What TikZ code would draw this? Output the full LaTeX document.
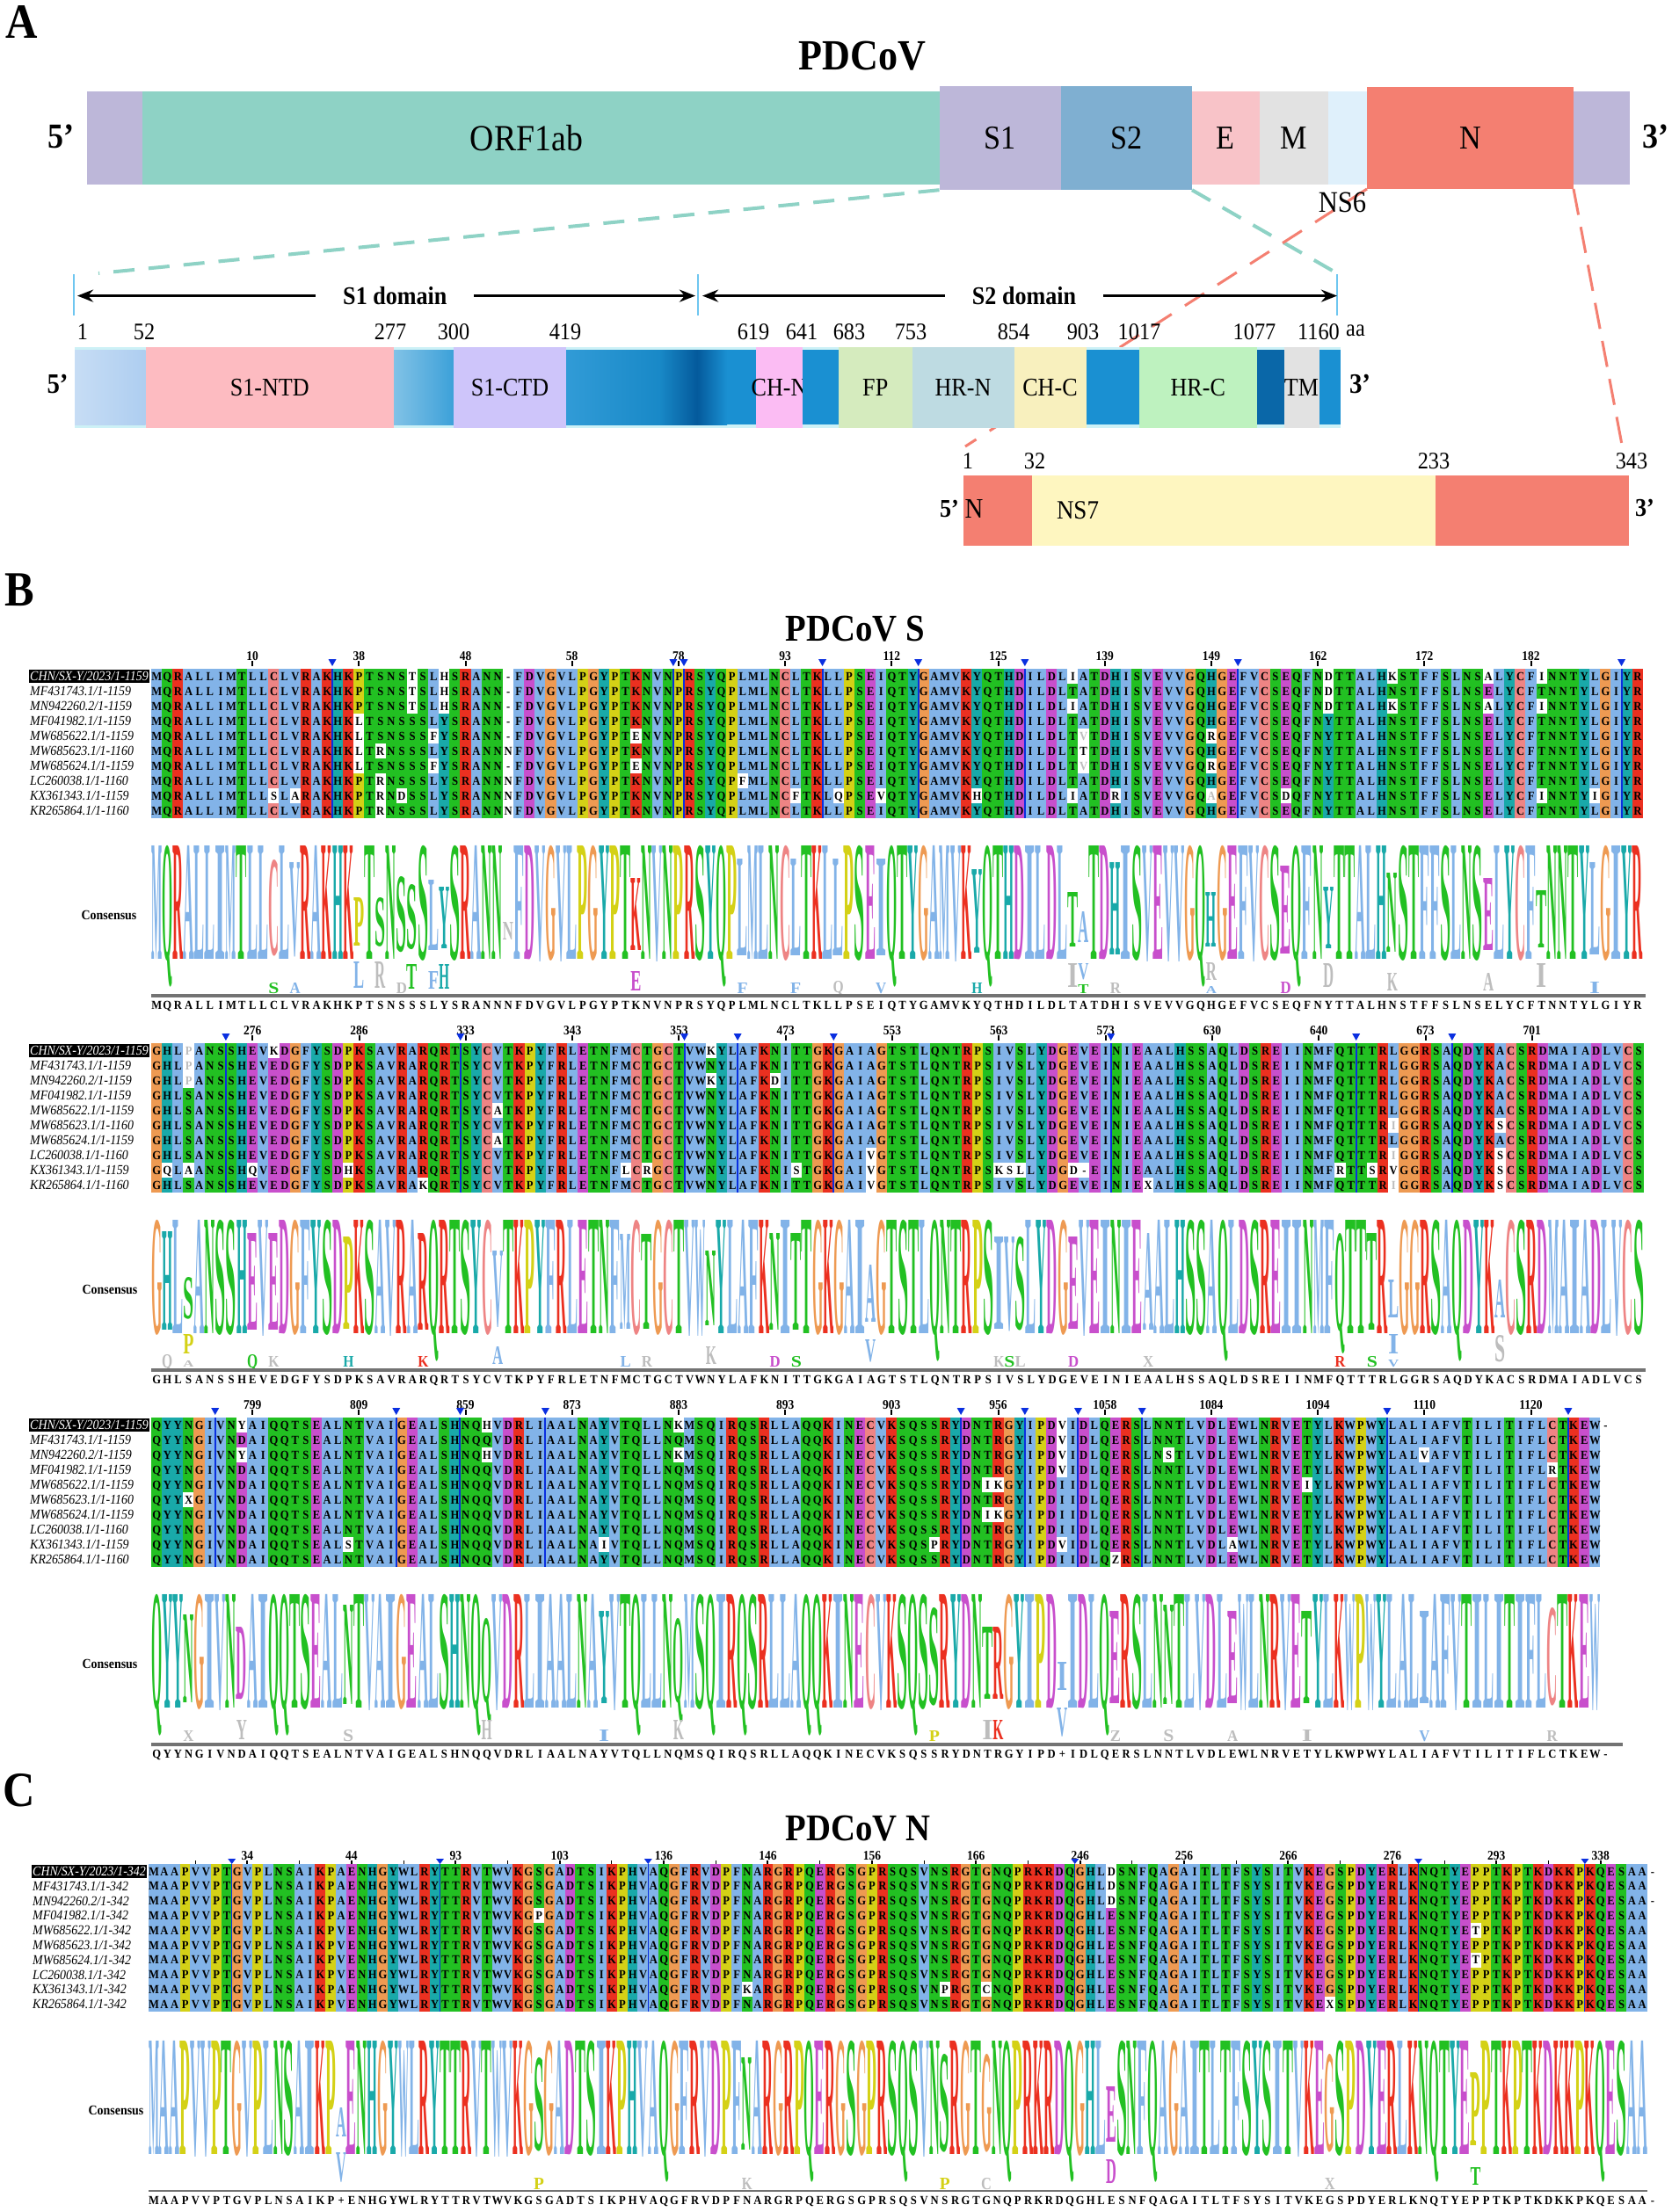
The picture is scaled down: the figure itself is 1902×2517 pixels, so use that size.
\documentclass[tikz,border=0pt]{standalone}
\usepackage{fontspec}
\setmainfont[FakeStretch=0.9]{Liberation Serif}
\usetikzlibrary{positioning, backgrounds, arrows.meta}

\definecolor{hydro}{HTML}{82B3E8}
\definecolor{polar}{HTML}{22C022}
\definecolor{basic}{HTML}{EB3020}
\definecolor{acid}{HTML}{C84FCC}
\definecolor{gly}{HTML}{EE9A52}
\definecolor{pro}{HTML}{D4D116}
\definecolor{arom}{HTML}{19A9A9}
\definecolor{cys}{HTML}{EE8484}
\definecolor{faint}{HTML}{BDBDBD}
\definecolor{insertblue}{HTML}{0A2FE0}
\definecolor{lilac}{HTML}{BDB7D9}
\definecolor{orfteal}{HTML}{8ED2C5}
\definecolor{spiketwo}{HTML}{7FAFD1}
\definecolor{enve}{HTML}{F8C3C8}
\definecolor{memb}{HTML}{E2E2E2}
\definecolor{nssix}{HTML}{DFF0FB}
\definecolor{nucl}{HTML}{F47F71}
\definecolor{strip}{HTML}{CDF1F6}
\definecolor{linker}{HTML}{1A90D2}
\definecolor{tickblue}{HTML}{6EC6F0}
\definecolor{ntdpink}{HTML}{FDBBC1}
\definecolor{ctdlilac}{HTML}{CEC5FA}
\definecolor{chnpink}{HTML}{FBBCF3}
\definecolor{fpgreen}{HTML}{D5EBBE}
\definecolor{hrnblue}{HTML}{BEDBE2}
\definecolor{chcyellow}{HTML}{F8F0BE}
\definecolor{hrcgreen}{HTML}{BEF2BF}
\definecolor{nsseven}{HTML}{FEF6C0}
\definecolor{deepblue}{HTML}{045A9C}
\definecolor{tmblue}{HTML}{0A67A8}

\newcommand{\fs}[1]{\fontsize{#1}{#1}\selectfont}
\newcommand{\faintres}[1]{\textcolor{faint}{#1}}
\newcommand{\seglab}[1]{\raisebox{-4pt}{\makebox[0pt]{#1}}}

\tikzset{
  genebox/.style={inner sep=0pt, outer sep=0pt, minimum height=105.5pt, font=\fs{38}},
  tallbox/.style={genebox, minimum height=118pt},
  fullseg/.style={inner sep=0pt, outer sep=0pt, minimum height=92pt, font=\fs{29}},
  blueseg/.style={fullseg, minimum height=85.3pt},
  nsbox/.style={inner sep=0pt, outer sep=0pt, minimum height=80pt},
  primelabel/.style={inner sep=0pt, font=\fs{40}\bfseries},
  numlabel/.style={inner sep=0pt, font=\fs{27}},
  panellabel/.style={inner sep=0pt, font=\fs{56}\bfseries},
  titlelabel/.style={inner sep=0pt, font=\fs{43}\bfseries},
  domainarrow/.style={line width=3.2pt, <->, >={Stealth[length=18pt,width=14pt]}},
  domainlabel/.style={fill=white, inner sep=0pt, minimum width=180pt, minimum height=20pt, font=\fs{29}\bfseries},
  tealdash/.style={orfteal, line width=4pt, dash pattern=on 24pt off 16pt},
  reddash/.style={nucl, line width=3pt, dash pattern=on 26pt off 18pt},
  seqrow/.style={anchor=base west, inner sep=0pt, font=\fs{14}\bfseries},
  logoletter/.style={anchor=base, inner sep=0pt, font=\bfseries},
  rowname/.style={anchor=base west, inner xsep=1pt, inner ysep=2pt, font=\fs{15.5}\itshape},
  ticklabel/.style={inner sep=0pt, font=\fs{15}\bfseries},
  conslabel/.style={inner sep=0pt, font=\fs{15.5}\bfseries}
}

\newcommand{\residuecolour}[2]{\foreach \a in {#2}{\expandafter\xdef\csname fc\a\endcsname{#1}}}
\residuecolour{hydro}{A,I,L,M,F,W,V}
\residuecolour{polar}{N,Q,S,T}
\residuecolour{basic}{K,R}
\residuecolour{acid}{D,E}
\residuecolour{gly}{G}
\residuecolour{pro}{P}
\residuecolour{arom}{H,Y}
\residuecolour{cys}{C}
\expandafter\gdef\csname fc-\endcsname{white}

\newcount\colno
\newcount\rowcol

\newcommand{\startblock}[6]{%
  \def\blk{#1}\def\xo{#2}\def\dxo{#3}\def\topy{#4}\def\rowh{#5}\def\seq{#6}%
  \pgfmathsetmacro\boty{#4+10*#5}%
  \pgfmathsetmacro\basey{#4+330}%
  \pgfmathsetmacro\consy{#4+387}%
  \global\colno=0\relax}

\newcommand{\variants}[1]{\foreach \c/\m/\rr in {#1}{\foreach \r in \rr{\global\expandafter\let\csname mut\blk-\r-\c\endcsname\m}}}
\newcommand{\logoheights}[1]{\foreach \c/\h in {#1}{\expandafter\xdef\csname hgt\blk-\c\endcsname{\h}}}

\newcommand{\docolumn}[1]{%
  \global\advance\colno by 1
  \edef\cc{\the\colno}%
  \pgfmathsetmacro\xl{\xo+(\cc-1)*\dxo}%
  \pgfmathsetmacro\xr{\xl+\dxo}%
  \pgfmathsetmacro\xm{\xl+.5*\dxo}%
  \edef\resc{\csname fc#1\endcsname}%
  \fill[\resc] (\xl,\topy) rectangle (\xr,\boty);
  \foreach \r in {1,...,10}{%
    \ifcsname mut\blk-\r-\cc\endcsname
      \ifcsname keep\blk-\cc\endcsname\else
        \fill[white] (\xl,{\topy+(\r-1)*\rowh}) rectangle (\xr,{\topy+\r*\rowh});
      \fi
    \fi
  }%
  \ifx#1-\else
    \ifcsname hgt\blk-\cc\endcsname
      \edef\lh{\csname hgt\blk-\cc\endcsname}%
    \else
      \def\lh{129}%
    \fi
    \ifcsname lgc\blk-\cc\endcsname
      \edef\resc{\csname lgc\blk-\cc\endcsname}%
    \fi
    \pgfmathsetmacro\ly{\basey-(129-\lh)*.2}%
    \node[logoletter, text=\resc] (l\blk-\cc) at (\xm,\ly) {\resizebox{\dxo pt}{\lh pt}{#1}};
  \fi}

\def\walkseq#1{\ifx#1\relax\else\docolumn{#1}\expandafter\walkseq\fi}

\def\cellwalk#1{\ifx#1\relax\else
  \global\advance\rowcol by 1
  \ifcsname mut\blk-\thisrow-\the\rowcol\endcsname
    \makebox[\dxo pt]{\csname mut\blk-\thisrow-\the\rowcol\endcsname}%
  \else
    \makebox[\dxo pt]{#1}%
  \fi
  \expandafter\cellwalk\fi}

\newcommand{\seqrows}{%
  \expandafter\walkseq\seq\relax
  \foreach \thisrow in {1,...,10}{%
    \pgfmathsetmacro\ry{\topy+(\thisrow-.5)*\rowh+4.7}%
    \node[seqrow] (seq\blk-\thisrow) at (\xo,\ry) {\global\rowcol=0\relax\expandafter\cellwalk\seq\relax};
  }%
  \def\thisrow{0}%
  \node[seqrow] (seq\blk-0) at (\xo,\consy) {\global\rowcol=0\relax\expandafter\cellwalk\seq\relax};}

\newcommand{\minority}[1]{\foreach \c/\l/\k/\h/\o in {#1}{%
  \pgfmathsetmacro\xm{\xo+(\c-.5)*\dxo}%
  \pgfmathsetmacro\ly{\basey+\o}%
  \node[logoletter, text=\k] (m\blk-\c-\l) at (\xm,\ly) {\resizebox{\dxo pt}{\h pt}{\l}};}}

\newcommand{\rownames}[2]{\foreach \nm [count=\r] in {#2}{%
  \pgfmathsetmacro\ry{\topy+(\r-.5)*\rowh+5}%
  \ifnum\r=1
    \node[rowname, fill=black, text=white] (n\blk-\r) at (#1,\ry) {\nm};
  \else
    \node[rowname] (n\blk-\r) at (#1,\ry) {\nm};
  \fi}}

\newcommand{\rulerticks}[4]{\foreach \c/\n in {#4}{%
  \pgfmathsetmacro\xm{\xo+(\c-.5)*\dxo}%
  \draw[line width=2pt] (\xm,{\topy-#2}) -- (\xm,{\topy-#3});
  \node[ticklabel] (t\blk-\c) at (\xm,{\topy-#1}) {\n};}}

\newcommand{\insertions}[4]{\foreach \c in {#4}{%
  \pgfmathsetmacro\xm{\xo+\c*\dxo}%
  \draw[insertblue, line width=#3] (\xm,\topy) -- (\xm,\boty);
  \fill[insertblue] ({\xm-4.5},{\topy-#1}) -- ({\xm+4.5},{\topy-#1}) -- (\xm,{\topy-#2}) -- cycle;}}

\newcommand{\footline}[3]{%
  \pgfmathsetmacro\ruley{\topy+372}%
  \coordinate (ra\blk) at (\xo,\ruley);
  \coordinate (rb\blk) at (#1,\ruley);
  \draw[black!55, line width=#2] (ra\blk) -- (rb\blk);
  \node[conslabel] (k\blk) at (#3,{\topy+280}) {Consensus};}

\begin{document}
\begin{tikzpicture}[x=1pt, y=-1pt]

\useasboundingbox (0,0) rectangle (1902,2517);
\begin{scope}[on background layer]
  \fill[white] (0,0) rectangle (1902,2517);
\end{scope}

\node [panellabel] (panelA) at (25,25) {A};
\node [titlelabel, font=\fs{49}\bfseries] (titleA) at (981,64) {PDCoV};

\node [genebox, fill=lilac, minimum width=62.5pt] (leftend) at (130.25,157.2) {};
\node [genebox, fill=orfteal, minimum width=907pt, right=0pt of leftend] (orf) {};
\node [tallbox, fill=lilac, minimum width=138.5pt, right=0pt of orf] (s1) {S1};
\node [tallbox, fill=spiketwo, minimum width=149pt, right=0pt of s1] (s2) {S2};
\node [genebox, fill=enve, minimum width=76.5pt, right=0pt of s2] (e) {E};
\node [genebox, fill=memb, minimum width=78.5pt, right=0pt of e] (m) {M};
\node [genebox, fill=nssix, minimum width=44pt, right=0pt of m] (ns6) {};
\node [tallbox, fill=nucl, minimum width=235pt, minimum height=115.6pt, right=0pt of ns6] (n) {N};
\node [genebox, fill=lilac, minimum width=64pt, right=0pt of n] (rightend) {};
\node [inner sep=0pt, font=\fs{42}] (orflabel) at (599,157) {ORF1ab};
\node [inner sep=0pt, font=\fs{34}] (ns6label) at (1527,230) {NS6};
\node [primelabel] (fiveA) at (69,155) {5’};
\node [primelabel] (threeA) at (1883,155) {3’};

\coordinate (tickA) at (84,312);
\coordinate (tickAb) at (84,359);
\coordinate (tickB) at (794,312);
\coordinate (tickBb) at (794,359);
\coordinate (tickC) at (1521,312);
\coordinate (tickCb) at (1521,359);
\draw[tickblue, line width=1.6pt] (tickA) -- (tickAb);
\draw[tickblue, line width=1.6pt] (tickB) -- (tickBb);
\draw[tickblue, line width=1.6pt] (tickC) -- (tickCb);

\coordinate (arrowA) at (88,336.6);
\coordinate (arrowB) at (791,336.6);
\coordinate (arrowC) at (799,336.6);
\coordinate (arrowD) at (1521,336.6);
\draw[domainarrow] (arrowA) -- node[domainlabel, pos=.514] (s1domain) {S1 domain} (arrowB);
\draw[domainarrow] (arrowC) -- node[domainlabel, pos=.507] (s2domain) {S2 domain} (arrowD);

\foreach \n/\x in {1/94,52/164,277/444,300/516,419/643,619/857,641/912,683/966,753/1036,854/1153,903/1232,1017/1296,1077/1427,1160/1500}
  \node [numlabel] (num\n) at (\x,377.5) {\n};
\node [numlabel] (aa) at (1542,376) {aa};

\node [fullseg, fill=strip, minimum width=80.5pt] (sig) at (125.25,440.7) {};
\node [blueseg, left color=hydro!45!white, right color=hydro!65!white, minimum width=80.5pt] (sigin) at (125.25,440.7) {};
\node [fullseg, fill=ntdpink, minimum width=282.5pt, right=0pt of sig] (ntd) {\seglab{S1-NTD}};
\node [fullseg, fill=strip, minimum width=68pt, right=0pt of ntd] (linkA) {};
\node [blueseg, left color=linker!55!white, right color=linker!85!white, minimum width=68pt, right=0pt of ntd] (linkAin) {};
\node [fullseg, fill=ctdlilac, minimum width=128pt, right=0pt of linkA] (ctd) {\seglab{S1-CTD}};
\node [fullseg, fill=strip, minimum width=216pt, right=0pt of ctd] (sdbar) {};
\node [blueseg, left color=linker!90!white, right color=linker!95!black, minimum width=106pt, right=0pt of ctd] (sdone) {};
\node [blueseg, left color=linker!95!black, right color=deepblue, minimum width=43pt, right=0pt of sdone] (sdtwo) {};
\node [blueseg, left color=deepblue, right color=linker, minimum width=34pt, right=0pt of sdtwo] (sdthree) {};
\node [blueseg, fill=linker, minimum width=33pt, right=0pt of sdthree] (sdfour) {};
\node [fullseg, fill=chnpink, minimum width=53pt, right=0pt of sdbar] (chn) {\seglab{CH-N}};
\node [fullseg, fill=strip, minimum width=41pt, right=0pt of chn] (linkB) {};
\node [blueseg, fill=linker, minimum width=41pt, right=0pt of chn] (linkBin) {};
\node [fullseg, fill=fpgreen, minimum width=83.5pt, right=0pt of linkB] (fp) {\seglab{FP}};
\node [fullseg, fill=hrnblue, minimum width=116pt, right=0pt of fp] (hrn) {\seglab{HR-N}};
\node [fullseg, fill=chcyellow, minimum width=82pt, right=0pt of hrn] (chc) {\seglab{CH-C}};
\node [fullseg, fill=strip, minimum width=60.5pt, right=0pt of chc] (linkC) {};
\node [blueseg, fill=linker, minimum width=60.5pt, right=0pt of chc] (linkCin) {};
\node [fullseg, fill=hrcgreen, minimum width=133.5pt, right=0pt of linkC] (hrc) {\seglab{HR-C}};
\node [fullseg, fill=strip, minimum width=31pt, right=0pt of hrc] (linkD) {};
\node [blueseg, fill=tmblue, minimum width=31pt, right=0pt of hrc] (linkDin) {};
\node [fullseg, fill=memb, minimum width=40pt, right=0pt of linkD] (tm) {\seglab{TM}};
\node [fullseg, fill=strip, minimum width=24.5pt, right=0pt of tm] (linkE) {};
\node [blueseg, fill=linker, minimum width=24.5pt, right=0pt of tm] (linkEin) {};
\node [primelabel, font=\fs{32}\bfseries] (fiveB) at (65.5,437) {5’};
\node [primelabel, font=\fs{32}\bfseries] (threeB) at (1547,437) {3’};

\foreach \n/\x in {1/1101,32/1177,233/1631,343/1856}
  \node [numlabel] (nsnum\n) at (\x,525) {\n};
\node [nsbox, fill=nucl, minimum width=78pt] (nhead) at (1135,581) {};
\node [nsbox, fill=nsseven, minimum width=459pt, right=0pt of nhead] (ns7) {};
\node [nsbox, fill=nucl, minimum width=220pt, right=0pt of ns7] (ntail) {};
\node [inner sep=0pt, font=\fs{32}] (nlabel) at (1108,579) {N};
\node [inner sep=0pt, font=\fs{30}] (ns7label) at (1226,581) {NS7};
\node [primelabel, font=\fs{29}\bfseries] (fiveC) at (1080,579) {5’};
\node [primelabel, font=\fs{29}\bfseries] (threeC) at (1871,578) {3’};

\coordinate (tealend) at (112,311);
\coordinate (tealendb) at (1521,311);
\coordinate (redend) at (1098,508);
\coordinate (redendb) at (1845,506);
\begin{scope}[on background layer]
  \draw[tealdash] (s1.south west) -- (tealend);
  \draw[tealdash] (s2.south east) -- (tealendb);
  \draw[reddash] (n.south west) -- (redend);
  \draw[reddash, dash pattern=on 30pt off 14pt] (n.south east) -- (redendb);
\end{scope}

\node [panellabel] (panelB) at (22,671) {B};
\node [titlelabel] (titleB) at (973,716) {PDCoV S};

\startblock{A}{172}{12.12}{761}{17}{MQRALLIMTLLCLVRAKHKPTSNSSSLYSRANNNFDVGVLPGYPTKNVNPRSYQPLMLNCLTKLLPSEIQTYGAMVKYQTHDILDLTATDHISVEVVGQHGEFVCSEQFNYTTALHNSTFFSLNSELYCFTNNTYLGIYR}
\variants{12/S/9, 14/A/9, 20/L/{4,5,6,7}, 22/R/{6,8,9,10}, 24/D/9, 25/T/{1,2,3}, 27/F/{5,7}, 28/H/{1,2,3}, 34/-/{1,2,3,4,5,7}, 34/N/{6,8,9,10}, 46/E/{5,7}, 56/F/8, 61/F/9, 65/Q/9, 69/V/9, 78/H/9, 87/I/{1,3,9}, 88/\faintres{V}/{5,7}, 88/T/6, 91/R/9, 100/R/{5,7}, 100/\faintres{A}/9, 107/D/9, 111/D/{1,2,3}, 117/K/{1,3}, 126/A/{1,3}, 131/I/{1,3,9}, 136/I/9}
\logoheights{12/108, 14/105, 20/55, 22/55, 24/85, 25/73, 27/80, 28/70, 34/20, 46/82, 56/110, 61/110, 65/110, 69/110, 78/95, 87/62, 88/35, 91/105, 100/62, 107/100, 111/70, 117/90, 126/82, 131/65, 136/105}
\expandafter\def\csname lgcA-34\endcsname{faint}
\seqrows
\minority{12/S/polar/12/39, 14/A/hydro/12/39, 20/L/hydro/30/33, 22/R/faint/30/33, 24/D/faint/12/39, 25/T/polar/28/34, 27/F/hydro/20/34, 28/H/arom/28/34, 46/E/acid/22/36, 56/F/hydro/12/39, 61/F/hydro/12/39, 65/Q/faint/13/38, 69/V/hydro/12/39, 78/H/arom/12/39, 87/I/faint/27/32, 88/V/hydro/18/23, 88/T/polar/10/39, 91/R/faint/12/39, 100/R/faint/20/24, 100/A/hydro/8/39, 107/D/acid/13/39, 111/D/faint/27/32, 117/K/faint/20/36, 126/A/faint/20/36, 131/I/faint/27/32, 136/I/hydro/13/39}
\rownames{33}{CHN/SX-Y/2023/1-1159, MF431743.1/1-1159, MN942260.2/1-1159, MF041982.1/1-1159, MW685622.1/1-1159, MW685623.1/1-1160, MW685624.1/1-1159, LC260038.1/1-1160, KX361343.1/1-1159, KR265864.1/1-1160}
\rulerticks{14}{9}{3}{10/10, 20/38, 30/48, 40/58, 50/78, 60/93, 70/112, 80/125, 90/139, 100/149, 110/162, 120/172, 130/182}
\insertions{11}{3}{2pt}{17,49,50,63,72,82,102,138}
\footline{1872}{3.5pt}{124}

\startblock{B}{172}{12.13}{1187}{17}{GHLSANSSHEVEDGFYSDPKSAVRARQRTSYCVTKPYFRLETNFMCTGCTVWNYLAFKNITTGKGAIAGTSTLQNTRPSIVSLYDGEVEINIEAALHSSAQLDSREIINMFQTTTRLGGRSAQDYKACSRDMAIADLVCS}
\variants{2/Q/9, 4/\faintres{P}/{1,2,3}, 4/A/9, 10/Q/9, 12/K/1, 19/H/9, 26/K/10, 33/A/{5,7}, 45/L/9, 47/R/9, 53/K/{1,3}, 59/D/3, 61/S/9, 68/V/{8,9,10}, 80/K/9, 81/S/9, 82/L/9, 87/D/9, 88/-/9, 94/X/10, 112/R/9, 115/S/9, 117/\faintres{I}/{6,8,10}, 117/V/9, 127/S/{6,8,9,10}}
\logoheights{2/112, 4/47, 10/110, 12/110, 19/105, 26/110, 33/85, 45/108, 47/108, 53/85, 59/110, 61/110, 68/65, 80/105, 81/105, 82/105, 87/105, 94/110, 112/110, 115/110, 117/43, 127/43}
\seqrows
\minority{2/Q/faint/15/39, 4/P/pro/22/23, 4/A/faint/7/38, 10/Q/polar/15/39, 12/K/faint/12/38, 19/H/arom/12/38, 26/K/basic/12/38, 33/A/hydro/20/35, 45/L/hydro/12/38, 47/R/faint/12/38, 53/K/faint/20/35, 59/D/acid/12/38, 61/S/polar/12/38, 68/V/hydro/25/32, 80/K/faint/12/38, 81/S/polar/12/38, 82/L/faint/12/38, 87/D/acid/12/38, 94/X/faint/12/38, 112/R/basic/12/38, 115/S/polar/12/38, 117/I/hydro/22/23, 117/V/hydro/8/38, 127/S/faint/30/32}
\rownames{33}{CHN/SX-Y/2023/1-1159, MF431743.1/1-1159, MN942260.2/1-1159, MF041982.1/1-1159, MW685622.1/1-1159, MW685623.1/1-1160, MW685624.1/1-1159, LC260038.1/1-1160, KX361343.1/1-1159, KR265864.1/1-1160}
\rulerticks{14}{9}{3}{10/276, 20/286, 30/333, 40/343, 50/353, 60/473, 70/553, 80/563, 90/573, 100/630, 110/640, 120/673, 130/701}
\insertions{11}{3}{2pt}{7,29,50,55,64,90,113,122}
\footline{1872}{3.5pt}{125}

\startblock{C}{172}{12.12}{1613}{17}{QYYNGIVNDAIQQTSEALNTVAIGEALSHNQQVDRLIAALNAYVTQLLNQMSQIRQSRLLAQQKINECVKSQSSRYDNTRGYIPDIIDLQERSLNNTLVDLEWLNRVETYLKWPWYLALIAFVTILITIFLCTKEW-}
\variants{4/X/6, 9/Y/{1,3}, 19/S/9, 32/H/{1,3}, 43/I/9, 50/K/{1,3}, 74/P/9, 79/I/{5,7}, 80/K/{5,7}, 86/V/{1,2,3,4,9}, 86/+/0, 91/Z/10, 96/S/3, 102/A/9, 109/I/5, 120/V/3, 132/R/4, 137/{}/{2,...,10}}
\logoheights{4/100, 9/82, 19/113, 32/95, 43/105, 50/95, 74/110, 79/82, 80/82, 86/32, 91/105, 96/113, 102/105, 109/105, 120/105, 132/110}
\seqrows
\minority{4/X/faint/12/38, 9/Y/faint/22/36, 19/S/faint/13/38, 32/H/faint/22/36, 43/I/hydro/13/38, 50/K/faint/22/36, 74/P/pro/12/38, 79/I/faint/22/36, 80/K/basic/22/36, 86/V/hydro/32/32, 91/Z/faint/12/38, 96/S/faint/13/38, 102/A/faint/12/38, 109/I/faint/13/38, 120/V/hydro/12/38, 132/R/faint/12/38}
\rownames{33}{CHN/SX-Y/2023/1-1159, MF431743.1/1-1159, MN942260.2/1-1159, MF041982.1/1-1159, MW685622.1/1-1159, MW685623.1/1-1160, MW685624.1/1-1159, LC260038.1/1-1160, KX361343.1/1-1159, KR265864.1/1-1160}
\rulerticks{14}{9}{3}{10/799, 20/809, 30/859, 40/873, 50/883, 60/893, 70/903, 80/956, 90/1058, 100/1084, 110/1094, 120/1110, 130/1120}
\insertions{11}{3}{2pt}{6,23,29,37,76,82,87,93,116,133}
\footline{1846}{3.5pt}{125}

\node [panellabel] (panelC) at (22,2037) {C};
\node [titlelabel] (titleC) at (976,2081) {PDCoV N};

\startblock{D}{169}{11.84}{2121}{16.8}{MAAPVVPTGVPLNSAIKPAENHGYWLRYTTRVTWVKGSGADTSIKPHVAQGFRVDPFNARGRPQERGSGPRSQSVNSRGTGNQPRKRDQGHLESNFQAGAITLTFSYSITVKEGSPDYERLKNQTYEPPTKPTKDKKPKQESAA-}
\variants{19/V/{5,6,7,8,10}, 19/+/0, 38/P/4, 58/K/9, 77/P/9, 81/C/9, 93/D/{1,2,3}, 114/X/10, 128/T/{5,7}, 145/{}/{2,4,5,6,7,8,9,10}}
\expandafter\def\csname keepD-19\endcsname{}
\logoheights{19/33, 38/105, 58/105, 77/110, 81/110, 93/63, 114/110, 128/83}
\seqrows
\minority{19/V/hydro/33/31, 38/P/pro/13/40, 58/K/faint/13/40, 77/P/pro/13/40, 81/C/faint/13/40, 93/D/acid/27/33, 114/X/faint/13/40, 128/T/polar/20/35}
\rownames{36}{CHN/SX-Y/2023/1-342, MF431743.1/1-342, MN942260.2/1-342, MF041982.1/1-342, MW685622.1/1-342, MW685623.1/1-342, MW685624.1/1-342, LC260038.1/1-342, KX361343.1/1-342, KR265864.1/1-342}
\rulerticks{9.5}{4}{0}{10/34, 20/44, 30/93, 40/103, 50/136, 60/146, 70/156, 80/166, 90/246, 100/256, 110/266, 120/276, 130/293, 140/338}
\foreach \c in {5,15,...,135} {
  \pgfmathsetmacro\xm{\xo+(\c-.5)*\dxo}
  \draw[line width=1pt] (\xm,{\topy-4}) -- (\xm,\topy);
}
\insertions{6}{0}{1pt}{8,28,48,89,122,138}
\footline{1874}{2pt}{132}

\end{tikzpicture}
\end{document}
